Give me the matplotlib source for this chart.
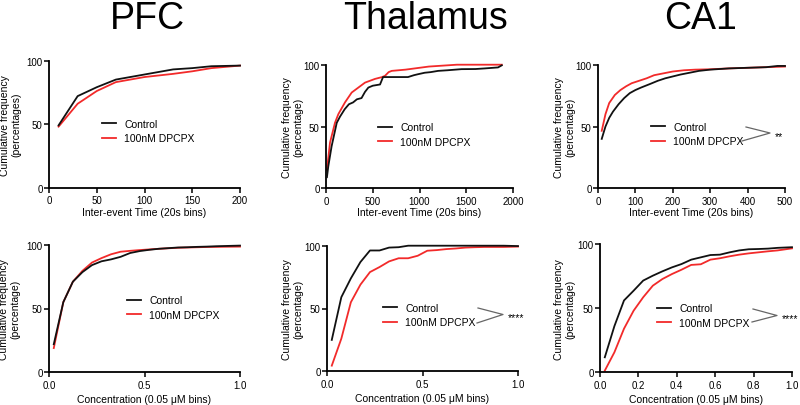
import matplotlib
matplotlib.use("Agg")
import matplotlib.pyplot as plt

plt.rcParams['font.family'] = ['Liberation Sans', 'DejaVu Sans']

# ---------------- data ----------------
titles = ["PFC", "Thalamus", "CA1"]
series_labels = ["Control", "100nM DPCPX"]
xlabel_top = "Inter-event Time (20s bins)"
xlabel_bot = "Concentration (0.05 \u03bcM bins)"

# PFC inter-event
pfc_t_x = [10, 30, 50, 70, 100, 130, 150, 170, 200]
pfc_t_ctrl = [49, 72, 79, 85, 89, 93, 94, 95.5, 96]
pfc_t_drug = [48, 66, 76, 83, 87, 89.5, 91.5, 94, 96]

# Thalamus inter-event
thal_t_x_ctrl = [10, 25, 60, 115, 150, 200, 245, 290, 330, 380, 417, 453, 500, 578, 610,
                 700, 877, 940, 984, 1056, 1120, 1199, 1300, 1449, 1600, 1700, 1840, 1880]
thal_t_ctrl = [9, 18, 34, 53, 58, 64, 68, 69.5, 72, 73, 78, 81.5, 83, 84, 90,
               90, 90, 91.5, 92.3, 93.5, 94, 95, 95.5, 96.4, 96.5, 97, 97.8, 99.5]
thal_t_x_drug = [10, 43, 96, 132, 203, 275, 346, 417, 524, 600, 631, 670, 703, 850,
                 1000, 1100, 1200, 1400, 1880]
thal_t_drug = [15, 37, 53, 60, 69.5, 77.5, 81.5, 85.5, 88.5, 90, 91, 94, 95, 96,
               97.5, 98.5, 99, 100, 100]

# CA1 inter-event
ca1_t_x_ctrl = [10, 20, 30, 40, 55, 70, 85, 100, 115, 140, 160, 180, 200, 220, 245,
                270, 300, 350, 400, 450, 480, 500]
ca1_t_ctrl = [40, 50, 57, 62, 68, 73, 77, 79.5, 81.5, 84.5, 87, 89, 90.5, 92, 93.5,
              95, 96, 97, 97.5, 98, 99, 99]
ca1_t_x_drug = [10, 20, 30, 45, 60, 75, 90, 110, 130, 150, 175, 200, 230, 260, 300,
                350, 400, 450, 500]
ca1_t_drug = [46.5, 60, 69, 75.5, 79.5, 82.5, 85, 87, 89, 91.5, 93, 94.5, 95.5, 96, 96.3,
              97, 97.5, 98, 98.5]

# Concentration bins (shared x)
conc_x = [0.025, 0.075, 0.125, 0.175, 0.225, 0.275, 0.325, 0.375, 0.425, 0.475,
          0.525, 0.575, 0.625, 0.675, 0.725, 0.775, 0.825, 0.875, 0.925, 1.0]
pfc_c_ctrl = [22, 55, 71, 78.5, 84, 87, 88.5, 90.5, 93.5, 95, 96, 96.8, 97.3, 97.8,
              98, 98.3, 98.5, 98.8, 99, 99.3]
pfc_c_drug = [19, 55, 71, 79.5, 86, 89.5, 92.5, 94.5, 95.2, 95.8, 96.3, 96.8, 97.2,
              97.6, 97.8, 98, 98.2, 98.3, 98.4, 98.5]
thal_c_ctrl = [25, 59, 74, 87, 96.2, 96.2, 98.5, 98.8, 100, 100, 100, 100, 100, 100,
               100, 100, 100, 100, 100, 99.7]
thal_c_drug = [4.5, 26, 55, 69, 79, 83, 87.5, 90, 90, 92, 96, 96.5, 97.3, 97.8, 98.5,
               98.8, 99, 99, 99, 99.3]
ca1_c_ctrl = [11.7, 36, 56, 63.6, 71.5, 75.3, 78.7, 81.8, 84.4, 87.8, 89.6, 91.4, 91.7,
              93.5, 95, 95.9, 96.1, 96.4, 97, 97.5]
ca1_c_drug = [1.3, 15.6, 34, 48, 58.5, 67.5, 72.7, 76.6, 80, 83.7, 84.2, 87.8, 88.9,
              90.4, 91.7, 92.7, 93.5, 94.3, 95, 96.6]

sig_marks = [None, None, "**", None, "****", "****"]

# ---------------- layout ----------------
W, H = 800, 406
fig = plt.figure(figsize=(W / 100, H / 100), dpi=100)


def rect(l, r, b, t):
    return [l / W, 1 - b / H, (r - l) / W, (b - t) / H]


panels = [
    dict(rect=rect(49, 240, 188.7, 61.5), x=(pfc_t_x, pfc_t_x), y=(pfc_t_ctrl, pfc_t_drug),
         xlim=200, xticks=[0, 50, 100, 150, 200], fmt="{:g}", ylab="(percentages)",
         ylx=10, leg=(102, 132), xl=xlabel_top),
    dict(rect=rect(326, 513, 189.3, 65.7), x=(thal_t_x_ctrl, thal_t_x_drug),
         y=(thal_t_ctrl, thal_t_drug), xlim=2000, xticks=[0, 500, 1000, 1500, 2000],
         fmt="{:g}", ylab="(percentage)", ylx=292, leg=(378, 135.5), xl=xlabel_top),
    dict(rect=rect(598, 785, 189.3, 65.7), x=(ca1_t_x_ctrl, ca1_t_x_drug),
         y=(ca1_t_ctrl, ca1_t_drug), xlim=500, xticks=[0, 100, 200, 300, 400, 500],
         fmt="{:g}", ylab="(percentage)", ylx=564, leg=(651, 135), xl=xlabel_top),
    dict(rect=rect(49, 240, 373.3, 245.7), x=(conc_x, conc_x), y=(pfc_c_ctrl, pfc_c_drug),
         xlim=1.0, xticks=[0, 0.5, 1.0], fmt="{:.1f}", ylab="(percentage)",
         ylx=9, leg=(127, 308.5), xl=xlabel_bot),
    dict(rect=rect(327, 518, 372.3, 246.7), x=(conc_x, conc_x), y=(thal_c_ctrl, thal_c_drug),
         xlim=1.0, xticks=[0, 0.5, 1.0], fmt="{:.1f}", ylab="(percentage)",
         ylx=292, leg=(383, 316), xl=xlabel_bot),
    dict(rect=rect(600, 792, 373.3, 245), x=(conc_x, conc_x), y=(ca1_c_ctrl, ca1_c_drug),
         xlim=1.0, xticks=[0, 0.2, 0.4, 0.6, 0.8, 1.0], fmt="{:.1f}", ylab="(percentage)",
         ylx=564, leg=(657, 316.5), xl=xlabel_bot),
]

colors = ["#111111", "#f22a2a"]
fs = 7.5

for i, p in enumerate(panels):
    ax = fig.add_axes(p["rect"])
    for k in range(2):
        ax.plot(p["x"][k], p["y"][k], color=colors[k], lw=1.3, label=series_labels[k],
                clip_on=False, zorder=3 - k)
    ax.set_xlim(0, p["xlim"])
    ax.set_ylim(0, 100)
    ax.set_xticks(p["xticks"])
    ax.set_xticklabels([p["fmt"].format(v) for v in p["xticks"]])
    ax.set_yticks([0, 50, 100])
    for s in ["top", "right"]:
        ax.spines[s].set_visible(False)
    for s in ["left", "bottom"]:
        ax.spines[s].set_linewidth(1.3)
    ax.tick_params(axis="both", length=3.5, width=1.1, labelsize=7, color="black")
    ax.tick_params(axis="y", pad=1)
    ax.tick_params(axis="x", pad=2)

    bb = ax.get_position()
    axl, axr = bb.x0 * W, bb.x1 * W
    axb, axt = (1 - bb.y0) * H, (1 - bb.y1) * H
    aw, ah = axr - axl, axb - axt

    # y label (center at ylx px)
    ax.set_ylabel("Cumulative frequency\n" + p["ylab"], fontsize=fs, va="center",
                  linespacing=1.15)
    ax.yaxis.set_label_coords((p["ylx"] + 1 - axl) / aw, 0.5)
    # x label
    xl_center = axb + (24 if i < 3 else 27)
    ax.set_xlabel(p["xl"], fontsize=fs, va="center")
    ax.xaxis.set_label_coords(0.5, -(xl_center - axb) / ah)

    # legend
    lx, ly = p["leg"]
    ax.legend(loc="center left", bbox_to_anchor=(lx / W, 1 - ly / H),
              bbox_transform=fig.transFigure, frameon=False, fontsize=fs,
              handlelength=1.35, handletextpad=0.8, labelspacing=0.45,
              borderpad=0, borderaxespad=0)

    # significance
    if sig_marks[i]:
        if i == 2:
            up, vx, lo = (746, 128), (770, 134), (742, 142)
        elif i == 4:
            up, vx, lo = (478, 309), (503, 315.5), (477, 324)
        else:
            up, vx, lo = (753, 310), (777, 316.5), (752, 323)

        def tf(pt):
            return ((pt[0] - axl) / aw, (axb - pt[1]) / ah)

        xs = [tf(up)[0], tf(vx)[0], tf(lo)[0]]
        ys = [tf(up)[1], tf(vx)[1], tf(lo)[1]]
        ax.plot(xs, ys, transform=ax.transAxes, color="#666666", lw=0.9, clip_on=False)
        tx, ty = tf((vx[0] + 5, vx[1] + 3))
        ax.text(tx, ty, sig_marks[i], transform=ax.transAxes, fontsize=fs,
                ha="left", va="center", clip_on=False)

# titles
for name, cx in zip(titles, [147, 426, 701]):
    fig.text(cx / W, 1 - 29 / H, name, fontsize=27, ha="center", va="baseline")

fig.savefig("out.png", dpi=100)
